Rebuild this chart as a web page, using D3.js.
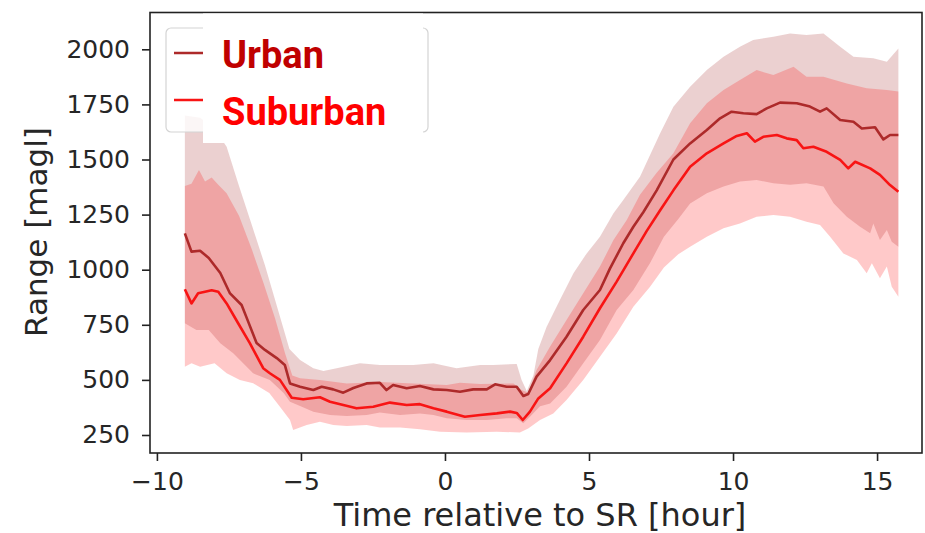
<!DOCTYPE html>
<html>
<head>
<meta charset="utf-8">
<script src="https://cdn.jsdelivr.net/npm/d3@7/dist/d3.min.js"></script>
<style>
  html, body { margin: 0; padding: 0; background: #fff; }
  svg { display: block; }
</style>
</head>
<body>
<svg id="chart" width="925" height="533"></svg>
<script>
// ---------- data (hour relative to sunrise, range in m agl) ----------
const xTicks = [-10, -5, 0, 5, 10, 15];
const yTicks = [250, 500, 750, 1000, 1250, 1500, 1750, 2000];
const seriesNames = ["Urban", "Suburban"];

const urbanMean = [[-9.03,1165],[-8.8,1082],[-8.5,1086],[-8.2,1053],[-7.8,985],[-7.47,894],[-7.06,840],[-6.9,787],[-6.54,667],[-6.25,636],[-5.84,599],[-5.56,568],[-5.38,484],[-5.03,469],[-4.57,454],[-4.28,469],[-3.88,457],[-3.53,442],[-3.18,463],[-2.72,484],[-2.26,487],[-2.03,454],[-1.8,477],[-1.33,462],[-0.87,472],[-0.4,457],[0.06,454],[0.52,446],[0.98,457],[1.45,457],[1.74,480],[2.14,469],[2.49,469],[2.72,427],[2.89,436],[3.18,515],[3.65,590],[4.22,696],[4.8,817],[5.38,908],[5.73,1006],[6.19,1120],[6.54,1195],[6.89,1262],[7.35,1360],[7.93,1500],[8.51,1573],[9.09,1634],[9.55,1687],[9.95,1717],[10.36,1710],[10.82,1706],[11.17,1732],[11.63,1758],[12.21,1755],[12.67,1740],[13.02,1717],[13.25,1732],[13.72,1679],[14.18,1671],[14.47,1641],[14.93,1646],[15.22,1591],[15.45,1611],[15.74,1611]];

const urbanHigh = [[-9.03,1700],[-8.5,1690],[-8.0,1640],[-7.58,1558],[-7.15,1380],[-6.7,1200],[-6.25,1020],[-5.78,810],[-5.4,640],[-5.03,590],[-4.57,553],[-4.22,540],[-3.76,553],[-2.95,575],[-2.26,568],[-1.1,568],[-0.4,575],[0.4,553],[1.22,568],[1.68,568],[2.49,572],[2.66,500],[2.84,450],[3.07,520],[3.24,640],[3.53,741],[3.99,862],[4.46,984],[4.92,1074],[5.38,1150],[5.85,1256],[6.19,1316],[6.77,1422],[7.47,1619],[7.93,1739],[8.51,1830],[9.09,1906],[9.67,1966],[10.24,2012],[10.7,2042],[11.4,2057],[11.98,2072],[12.55,2065],[13.14,2072],[13.72,2012],[14.18,1966],[14.87,1959],[15.34,1944],[15.74,2004]];

const urbanLow = [[-9.03,757],[-8.63,726],[-8.2,726],[-7.8,666],[-7.35,621],[-6.66,530],[-6.08,500],[-5.6,440],[-5.38,401],[-5.03,382],[-4.57,356],[-3.99,341],[-3.41,336],[-2.72,341],[-2.26,352],[-1.56,341],[-0.87,348],[-0.4,341],[0.06,326],[0.75,318],[1.45,318],[2.14,326],[2.49,326],[2.72,303],[2.95,333],[3.3,380],[3.65,393],[4.22,469],[4.8,575],[5.38,681],[5.96,817],[6.54,908],[7.12,1030],[7.6,1150],[8.1,1230],[8.51,1300],[9.09,1347],[9.67,1377],[10.24,1400],[10.82,1407],[11.4,1392],[11.98,1385],[12.55,1392],[13.14,1377],[13.49,1302],[13.95,1240],[14.41,1195],[14.76,1165],[14.87,1210],[15.1,1135],[15.34,1180],[15.51,1127],[15.74,1104]];

const suburbMean = [[-9.03,911],[-8.8,847],[-8.57,893],[-8.33,900],[-8.1,907],[-7.87,900],[-7.58,847],[-7.18,757],[-6.77,666],[-6.31,553],[-6.08,530],[-5.73,500],[-5.32,419],[-4.92,412],[-4.34,421],[-3.99,401],[-3.53,386],[-3.07,371],[-2.49,378],[-1.91,397],[-1.33,386],[-0.87,390],[-0.4,371],[0.06,356],[0.69,333],[1.22,341],[1.8,348],[2.26,356],[2.49,350],[2.7,318],[2.95,356],[3.24,416],[3.65,462],[4.22,575],[4.8,696],[5.38,825],[5.96,946],[6.54,1074],[7.0,1175],[7.47,1270],[7.93,1360],[8.51,1467],[9.09,1528],[9.67,1573],[10.13,1607],[10.48,1619],[10.76,1581],[11.05,1603],[11.52,1611],[11.86,1596],[12.21,1588],[12.44,1551],[12.79,1558],[13.25,1535],[13.72,1498],[14.0,1460],[14.24,1490],[14.76,1460],[15.1,1430],[15.45,1384],[15.74,1354]];

const suburbHigh = [[-9.03,1380],[-8.8,1390],[-8.54,1452],[-8.33,1400],[-8.1,1418],[-7.87,1385],[-7.58,1347],[-7.15,1245],[-6.7,1090],[-6.3,940],[-5.9,780],[-5.55,620],[-5.3,520],[-5.03,507],[-4.34,500],[-3.41,484],[-2.26,490],[-1.1,484],[0.06,477],[0.52,487],[1.22,481],[2.38,484],[2.66,454],[2.89,442],[3.18,545],[3.65,651],[4.22,772],[4.8,893],[5.38,1014],[5.85,1135],[6.31,1225],[6.77,1340],[7.35,1440],[7.93,1528],[8.51,1664],[9.09,1755],[9.67,1815],[10.24,1861],[10.82,1906],[11.4,1883],[12.1,1921],[12.55,1876],[13.14,1876],[13.95,1845],[14.64,1823],[15.34,1815],[15.74,1808]];

const suburbLow = [[-9.03,560],[-8.8,575],[-8.5,560],[-8.0,575],[-7.58,530],[-7.12,500],[-6.66,485],[-6.1,440],[-5.73,378],[-5.38,318],[-5.27,273],[-4.8,295],[-4.34,310],[-3.88,295],[-3.41,291],[-2.72,295],[-2.26,284],[-1.56,284],[-0.87,276],[-0.17,265],[0.75,261],[1.8,265],[2.6,261],[2.89,280],[3.3,318],[3.76,348],[4.22,409],[4.8,500],[5.38,605],[5.96,711],[6.54,832],[7.12,923],[7.6,1010],[8.1,1070],[8.51,1104],[9.09,1150],[9.67,1188],[10.24,1210],[10.82,1240],[11.4,1248],[11.98,1240],[12.55,1218],[13.02,1203],[13.37,1150],[13.83,1074],[14.3,1044],[14.64,984],[14.82,1029],[15.1,961],[15.34,1014],[15.51,923],[15.74,877]];

// ---------- layout ----------
const svg = d3.select("#chart");
const L = 150, R = 922, T = 12.5, B = 453;
const x = d3.scaleLinear().domain([-10.24, 16.56]).range([L, R]);
const y = d3.scaleLinear().domain([168.3, 2167]).range([B, T]);

const urbanColor = "#ad2a2a";
const suburbColor = "#f81414";

const line = d3.line().x(d => x(d[0])).y(d => y(d[1]));
function bandPath(high, low) {
  return line(high.concat(low.slice().reverse())) + "Z";
}

const plot = svg.append("g");
plot.append("path").attr("d", bandPath(urbanHigh, urbanLow))
  .attr("fill", "#a52a2a").attr("fill-opacity", 0.22);
plot.append("path").attr("d", bandPath(suburbHigh, suburbLow))
  .attr("fill", "#ff0000").attr("fill-opacity", 0.21);
plot.append("path").datum(urbanMean).attr("d", line)
  .attr("fill", "none").attr("stroke", urbanColor).attr("stroke-width", 2.6)
  .attr("stroke-linejoin", "round");
plot.append("path").datum(suburbMean).attr("d", line)
  .attr("fill", "none").attr("stroke", suburbColor).attr("stroke-width", 2.6)
  .attr("stroke-linejoin", "round");

// ---------- axes ----------
const tickFont = "'DejaVu Sans', sans-serif";
const gy = svg.append("g").attr("transform", `translate(${L},0)`)
  .call(d3.axisLeft(y).tickValues(yTicks).tickSize(8).tickPadding(12).tickFormat(d3.format("d")));
const gx = svg.append("g").attr("transform", `translate(0,${B})`)
  .call(d3.axisBottom(x).tickValues(xTicks).tickSize(8).tickPadding(11).tickFormat(d => d < 0 ? "\u2212" + Math.abs(d) : d));
[gx, gy].forEach(g => {
  g.select(".domain").remove();
  g.selectAll(".tick line").attr("stroke", "#222").attr("stroke-width", 1.6);
  g.selectAll(".tick text").attr("fill", "#262626").style("font-family", tickFont).style("font-size", "25px");
});

// frame
svg.append("rect").attr("x", L).attr("y", T).attr("width", R - L).attr("height", B - T)
  .attr("fill", "none").attr("stroke", "#222").attr("stroke-width", 1.6);

// axis labels
svg.append("text").attr("x", 540).attr("y", 526).attr("text-anchor", "middle")
  .style("font-family", tickFont).style("font-size", "32px").attr("fill", "#262626")
  .text("Time relative to SR [hour]");
svg.append("text").attr("transform", "translate(47,232) rotate(-90)").attr("text-anchor", "middle")
  .style("font-family", tickFont).style("font-size", "31px").attr("fill", "#262626")
  .text("Range [magl]");

// ---------- legend ----------
const lg = svg.append("g");
lg.append("rect").attr("x", 166).attr("y", 28).attr("width", 262).attr("height", 104).attr("rx", 5)
  .attr("fill", "#fff").attr("fill-opacity", 0.8).attr("stroke", "#d4d4d4").attr("stroke-width", 1.2);
lg.append("line").attr("x1", 174).attr("x2", 210).attr("y1", 53).attr("y2", 53)
  .attr("stroke", urbanColor).attr("stroke-width", 2.6);
lg.append("line").attr("x1", 174).attr("x2", 210).attr("y1", 100).attr("y2", 100)
  .attr("stroke", suburbColor).attr("stroke-width", 2.6);
lg.append("rect").attr("x", 203).attr("y", 13.5).attr("width", 220).attr("height", 129.5).attr("fill", "#fff");
const labelColors = ["#c00000", "#ff0000"];
const labelY = [68, 125];
seriesNames.forEach((n, i) => {
  lg.append("text").attr("x", 222).attr("y", labelY[i])
    .style("font-family", "Roboto, sans-serif").style("font-weight", "700").style("font-size", "38px")
    .attr("fill", labelColors[i]).text(n);
});
</script>
</body>
</html>
